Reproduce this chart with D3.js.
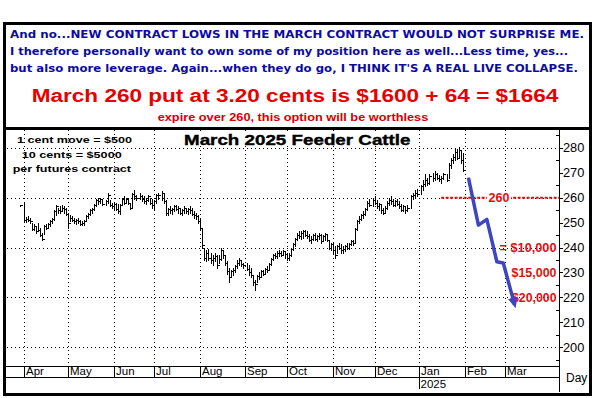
<!DOCTYPE html>
<html><head><meta charset="utf-8">
<script src="https://cdn.jsdelivr.net/npm/d3@7"></script>
<style>
html,body{margin:0;padding:0;background:#fff;}
svg{display:block;font-family:"Liberation Sans",Arial,sans-serif;}
</style></head><body>
<svg id="c" width="595" height="398"></svg>
<script>
// ---------------- DATA ----------------
const firstTradingDay = "2024-03-28";
const holidays = ["2024-03-29","2024-05-27","2024-06-19","2024-07-04","2024-09-02",
  "2024-11-28","2024-12-25","2025-01-01","2025-01-09","2025-01-20"];

// daily high / low / close, one value per trading day (Mar 28 2024 .. Jan 31 2025)
const high = [
  257.2,
  258.4,252.4,252.5,252,250,249.5,248.5,250,248,246,249,249.5,250,251,252,255,257,256,256.5,257,256.5,256,
  254,253,252.5,252,251.5,252,251,250.5,251,253,254,255.5,256,257.5,259.5,260,260,259,259,262,259,258,
  258,258,257.5,257.5,260,260.5,260,260,258,262,263,261,262,261,260.5,260,261,260,259.5,
  259,261.5,262,262.5,262,259,256,256.5,256,257,257,256.5,256,255.5,256.5,256,256,256.5,256,254.5,254,253,
  252,248,240,239,239.5,238,237,238,237,237,240,239,237,234.5,232,231,232,233,235,236,235,234,
  234,233,232,229,227,229,230,231,231,232,232.5,234,236,237.5,238,238.5,239,238.5,239,238.5,
  238,238,240,242,244,246,246.5,246.5,247,247,246.5,245.5,244.5,245.5,246,245,246,245.5,245,246,245.5,243,242,
  242,240.5,241,242,241.5,240.5,241,242,242,243,243,248,251,252.5,253.5,254.5,256,258.5,259.5,260,
  260.5,259,258,257.5,256,256.5,258.5,260,260.5,259.5,259,259.5,258.5,257.5,257,256.5,257,261,262,263,263.5,
  265,267,269.5,268,269.5,270,270.5,270,269,268.5,270,269.5,274,276,277.5,280,279.5,280.5,279,278
];
const low = [
  256.6,
  250.4,250.4,250.5,250,247,247,246,246.5,244.5,243,245.5,247.5,248,248.5,250,251,253,254,254,254.5,254,253,
  248,250.5,250.5,250,249.5,250,249,249,249,250.5,252,253,254,255,256.5,257.5,258,257,257,258,256.5,256,
  255.5,255,254,253.5,257,257.5,258,257.5,255.5,256,259.5,259,259.5,258.5,258,257.5,258.5,257.5,256,
  255.5,258,259.5,259,258,253,253,254,253.5,254.5,255,254,253.5,253,254,254,253.5,254,253,252,251.5,250,
  247,240,235,234.5,235,234,233,234.5,232,234,235,236,233,229.5,226,228,229,230,232,233,232.5,232,
  231,229,228,225,223,226,227.5,228,229,229.5,230,231,233,235,236,236,236.5,236.5,237,236,
  235,235,236.5,239,240.5,243,244,243.5,244,244.5,244,242.5,242,243,243,242.5,243.5,242,242.5,243,242.5,239.5,239,
  238,236,238,239.5,238,238,238.5,239.5,239.5,241,241,242,247,250,251,252,253,255,256.5,256.5,
  257.5,256,255,254,253.5,254,255.5,257,257.5,256.5,256.5,257,256,254.5,254.5,254,254.5,256,259.5,260,260.5,
  261.5,263,264.5,265,265.5,266.5,267,267.5,266.5,266,267.5,266.5,268,272,274,275,275.5,276,274,270.5
];
const close = [
  257,
  251,251.5,251,250.5,247.5,248.5,246.5,247,245,243.5,248.5,248,249.5,250.5,251.5,254.5,256.5,255,254.5,256,255.5,253.5,
  250,252,251,250.5,251,250.5,249.5,250,250.5,252.5,253.5,255,255.5,257,259,258.5,259.5,257.5,258.5,261,257,256.5,
  257.5,255.5,254.5,257,259.5,258,259.5,258,256,261.5,260.5,260,260.5,259.5,258.5,259,260.5,258,257,
  258.5,261,261,262,258.5,254,255.5,255,255.5,256.5,255.5,256,254,255,256,254.5,255.5,255,253.5,253,252.5,250.5,
  248,241,236,238,236,235,236,236.5,233,235.5,239,237,234,230.5,228,230.5,231,232.5,234,235,233.5,233,
  231.5,230,229,226,225.5,228.5,228,230.5,229.5,231.5,231,233.5,235.5,237,236.5,238,238,237,238.5,237.5,
  236,237,239.5,241.5,243.5,245,244.5,246,246.5,245,244.5,243,243.5,245,243.5,244.5,245,242.5,244.5,245.5,243,240,241.5,
  239,237,240.5,240,239,239.5,240.5,240,241.5,242.5,242,247.5,250.5,251.5,253,253.5,255.5,258,257,259,
  258,256.5,257.5,255,254,256,258,259,258.5,257,258.5,257.5,256.5,255,256.5,255,256,260.5,261,262,261.5,
  264.5,265.5,267,266,268.5,268,269.5,268,267.5,268,269.5,267,273,275,276.5,278.5,276,279,275,271
];

const monthStarts = ["2024-04-01","2024-05-01","2024-06-01","2024-07-01","2024-08-01","2024-09-01",
  "2024-10-01","2024-11-01","2024-12-01","2025-01-01","2025-02-01","2025-03-01"];
const monthLabels = ["Apr","May","Jun","Jul","Aug","Sep","Oct","Nov","Dec","Jan","Feb","Mar"];
const yearMonth = "2025-01-01", yearLabel = "2025";
const priceTicks = [200,210,220,230,240,250,260,270,280];
const minorTicks = [195,205,215,225,235,245,255,265,275,285];
const gridPrices = [200,220,240,260,280];

// projected path (weekday index from Apr 1 2024, price)
const projIndex = [221.6, 226.6, 230.8, 235.8, 239, 244.6];
const projPrice = [268, 249, 251.3, 234.3, 233.8, 217.2];

const strikePrice = 260, strikeStartIndex = 208;
const targetPrices = [240, 230, 220];
const targetLabels = ["= $10,000", "$15,000", "$20,000"];

const headerBlue = [
  "And no...NEW CONTRACT LOWS IN THE MARCH CONTRACT WOULD NOT SURPRISE ME.",
  "I therefore personally want to own some of my position here as well...Less time, yes...",
  "but also more leverage. Again...when they do go, I THINK IT'S A REAL LIVE COLLAPSE."
];
const headerRed = "March 260 put at 3.20 cents is $1600 + 64 = $1664";
const headerNote = "expire over 260, this option will be worthless";
const title = "March 2025 Feeder Cattle";
const contractNotes = ["1 cent move = $500", "10 cents = $5000", "per futures contract"];

// ---------------- HELPERS ----------------
const parse = d3.utcParse("%Y-%m-%d");
const base = parse("2024-04-01"); // a Monday
function weekdayIndex(d) {
  const days = Math.round((d - base) / 86400000);
  const w = Math.floor(days / 7), r = days - w * 7;
  return w * 5 + Math.min(r, 5);
}
const holidaySet = new Set(holidays);
const tradingDays = [];
{
  let d = parse(firstTradingDay);
  while (tradingDays.length < close.length) {
    const dow = d.getUTCDay();
    const s = d3.utcFormat("%Y-%m-%d")(d);
    if (dow !== 0 && dow !== 6 && !holidaySet.has(s)) tradingDays.push(d);
    d = d3.utcDay.offset(d, 1);
  }
}
const bars = close.map((c, i) => ({ idx: weekdayIndex(tradingDays[i]), h: high[i], l: low[i], c }));

// ---------------- LAYOUT ----------------
const svg = d3.select("#c");
const W = 595, H = 398;
const plot = { left: 6, right: 559, top: 130, bottom: 366 };
const x = d3.scaleLinear().domain([0, 240]).range([24, 505.3]);
const y = d3.scaleLinear().domain([200, 280]).range([347.3, 147.8]);
const px = v => Math.round(v) + 0.5;

svg.append("rect").attr("width", W).attr("height", H).attr("fill", "#fff");

// header text
const hb = svg.append("g").attr("font-weight", "bold");
const blueBase = [37.5, 54.5, 71.5], blueLen = [574, 558, 568];
headerBlue.forEach((t, i) => {
  hb.append("text").attr("x", 10).attr("y", blueBase[i]).attr("fill", "#0c0c9e")
    .attr("font-family", "'DejaVu Sans', Verdana, sans-serif")
    .attr("font-size", 10.6).attr("textLength", blueLen[i]).attr("lengthAdjust", "spacingAndGlyphs").text(t);
});
hb.append("text").attr("x", 31.7).attr("y", 101.6).attr("fill", "#e60000").attr("font-size", 17.5)
  .attr("textLength", 526.6).attr("lengthAdjust", "spacingAndGlyphs").text(headerRed);
hb.append("text").attr("x", 157.7).attr("y", 120.5).attr("fill", "#d40000").attr("font-size", 10.5)
  .attr("textLength", 270.6).attr("lengthAdjust", "spacingAndGlyphs").text(headerNote);

// gridlines
const grid = svg.append("g").attr("stroke", "#000").attr("stroke-width", 1)
  .attr("stroke-dasharray", "1,3").attr("shape-rendering", "crispEdges");
gridPrices.forEach(p => grid.append("line").attr("x1", plot.left + 1).attr("x2", plot.right)
  .attr("y1", px(y(p))).attr("y2", px(y(p))));
const monthIdx = monthStarts.map(s => weekdayIndex(parse(s)));
monthIdx.forEach(i => grid.append("line").attr("x1", px(x(i))).attr("x2", px(x(i)))
  .attr("y1", plot.top).attr("y2", plot.bottom));

// title with white backing
svg.append("rect").attr("x", 182).attr("y", 131).attr("width", 231).attr("height", 15).attr("fill", "#fff");
svg.append("text").attr("x", 184).attr("y", 145).attr("font-size", 15.5).attr("font-weight", "bold")
  .attr("stroke", "#000").attr("stroke-width", 0.4)
  .attr("textLength", 226.5).attr("lengthAdjust", "spacingAndGlyphs").text(title);

// contract notes
const noteX = [17, 21.7, 12.7], noteY = [143, 157.8, 172], noteLen = [115, 100, 118.3];
contractNotes.forEach((t, i) => svg.append("text").attr("x", noteX[i]).attr("y", noteY[i])
  .attr("font-size", 9.8).attr("font-weight", "bold").attr("textLength", noteLen[i])
  .attr("lengthAdjust", "spacingAndGlyphs").text(t));

// price bars
svg.append("g").attr("shape-rendering", "crispEdges").selectAll("path").data(bars).join("path")
  .attr("stroke", "#000").attr("stroke-width", 1).attr("fill", "none")
  .attr("d", b => {
    const bx = px(x(b.idx));
    return `M${bx},${Math.round(y(b.h))}V${Math.round(y(b.l)) + 1}M${bx},${px(y(b.c))}H${bx + 2}`;
  });

// strike line
const sy = y(strikePrice);
svg.append("line").attr("x1", x(strikeStartIndex)).attr("x2", plot.right).attr("y1", sy).attr("y2", sy)
  .attr("stroke", "#e01010").attr("stroke-width", 2).attr("stroke-dasharray", "3,1.5");
svg.append("rect").attr("x", 487).attr("y", sy - 6.5).attr("width", 24).attr("height", 13).attr("fill", "#fff");
svg.append("text").attr("x", 499).attr("y", sy + 4.5).attr("text-anchor", "middle").attr("fill", "#e01010")
  .attr("font-weight", "bold").attr("font-size", 12.5).text(String(strikePrice));

// target labels
const targetLen = [57, 45, 44.5];
targetPrices.forEach((p, i) => svg.append("text").attr("x", 556.5 - targetLen[i]).attr("y", y(p) + 4.5)
  .attr("fill", "#e01010").attr("font-weight", "bold").attr("font-size", 12.5)
  .attr("textLength", targetLen[i]).attr("lengthAdjust", "spacingAndGlyphs")
  .text(targetLabels[i]));

// projected blue arrow
const defs = svg.append("defs");
defs.append("marker").attr("id", "ah").attr("markerUnits", "userSpaceOnUse")
  .attr("markerWidth", 14).attr("markerHeight", 14).attr("refX", 7).attr("refY", 5)
  .attr("orient", "auto").attr("viewBox", "0 0 14 10")
  .append("path").attr("d", "M0,0L11,5L0,10Z").attr("fill", "#3d45c0");
const line = d3.line().x(d => x(d[0])).y(d => y(d[1]));
svg.append("path").datum(projIndex.map((v, i) => [v, projPrice[i]])).attr("d", line)
  .attr("fill", "none").attr("stroke", "#3d45c0").attr("stroke-width", 3.5)
  .attr("stroke-linejoin", "round").attr("marker-end", "url(#ah)");

// right axis
const ax = svg.append("g").attr("shape-rendering", "crispEdges");
ax.append("line").attr("x1", plot.right + 0.5).attr("x2", plot.right + 0.5).attr("y1", plot.top).attr("y2", 392).attr("stroke", "#000");
priceTicks.forEach(p => {
  ax.append("line").attr("x1", plot.right).attr("x2", plot.right + 4).attr("y1", px(y(p))).attr("y2", px(y(p))).attr("stroke", "#000");
  svg.append("text").attr("x", 563).attr("y", y(p) + 4.6).attr("font-size", 12.8).text(p);
});
minorTicks.forEach(p => {
  const yy = y(p);
  if (yy > plot.top && yy < plot.bottom)
    ax.append("line").attr("x1", plot.right - 3).attr("x2", plot.right).attr("y1", px(yy)).attr("y2", px(yy)).attr("stroke", "#000");
});

// bottom axis band
ax.append("line").attr("x1", plot.left).attr("x2", plot.right).attr("y1", 366.5).attr("y2", 366.5).attr("stroke", "#000");
ax.append("line").attr("x1", plot.left).attr("x2", plot.right).attr("y1", 377.5).attr("y2", 377.5).attr("stroke", "#000");
const yearIdx = weekdayIndex(parse(yearMonth));
monthIdx.forEach((i, k) => {
  const mx = px(x(i));
  ax.append("line").attr("x1", mx).attr("x2", mx).attr("y1", 366).attr("y2", i === yearIdx ? 389 : 377).attr("stroke", "#000");
  svg.append("text").attr("x", mx + 1.5).attr("y", 375.3).attr("font-size", 11.5).text(monthLabels[k]);
});
svg.append("text").attr("x", px(x(yearIdx)) + 1).attr("y", 387.6).attr("font-size", 11.5).text(yearLabel);
svg.append("text").attr("x", 566).attr("y", 382).attr("font-size", 12).text("Day");

// frame
svg.append("rect").attr("x", 4.5).attr("y", 23.5).attr("width", 586).attr("height", 371)
  .attr("fill", "none").attr("stroke", "#000").attr("stroke-width", 3);
svg.append("line").attr("x1", 3).attr("x2", 592).attr("y1", 128.5).attr("y2", 128.5)
  .attr("stroke", "#000").attr("stroke-width", 3);
</script>
</body></html>
